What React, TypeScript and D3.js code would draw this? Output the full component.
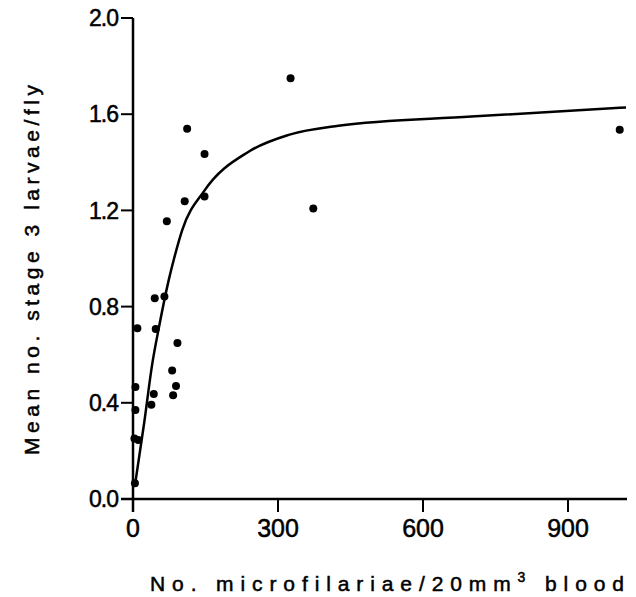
import React from "react";
import * as d3 from "d3";

const pointX = [326, 112, 148, 107, 148, 70, 373, 1007, 45, 65, 9, 47, 92, 81, 89, 83, 43, 38, 5, 5, 3, 11, 4];
const pointY = [1.75, 1.54, 1.435, 1.238, 1.258, 1.155, 1.208, 1.535, 0.835, 0.842, 0.71, 0.707, 0.649, 0.534, 0.47, 0.431, 0.437, 0.392, 0.466, 0.37, 0.252, 0.245, 0.065];

const curveX = [5, 23, 40, 54, 74, 85, 102, 147, 240, 322, 425, 700, 1020];
const curveY = [0.07, 0.315, 0.564, 0.717, 0.911, 1.0, 1.119, 1.28, 1.445, 1.514, 1.552, 1.59, 1.628];

const xTicks = [0, 300, 600, 900];
const yTicks = [0.0, 0.4, 0.8, 1.2, 1.6, 2.0];

const xTitle = "No. microfilariae/20mm";
const xTitleSup = "3";
const xTitleEnd = " blood";
const yTitle = "Mean no. stage 3 larvae/fly";

export default function App() {
  const W = 636;
  const H = 597;
  const x = d3.scaleLinear().domain([0, 1020]).range([133, 626]);
  const y = d3.scaleLinear().domain([0, 2]).range([499, 18]);
  const x0 = x(0);
  const y0 = y(0);

  const line = d3
    .line<number>()
    .x((_, i) => x(curveX[i]))
    .y((_, i) => y(curveY[i]))
    .curve(d3.curveMonotoneX);

  const font = "'Liberation Sans', Arial, Helvetica, sans-serif";
  const textStroke = { stroke: "#000", strokeWidth: 0.5 };

  return (
    <svg
      width={W}
      height={H}
      style={{ position: "absolute", left: 0, top: 0, background: "#fff" }}
      fontFamily={font}
    >
      {/* axes */}
      <line x1={x0} x2={x0} y1={y(2)} y2={y0 + 13} stroke="#000" strokeWidth={2.5} />
      <line x1={x0 - 12} x2={627} y1={y0} y2={y0} stroke="#000" strokeWidth={2.5} />
      {yTicks.map((t) => (
        <g key={"y" + t}>
          <line x1={x0 - 12} x2={x0} y1={y(t)} y2={y(t)} stroke="#000" strokeWidth={2} />
          <text
            x={x0 - 15}
            y={y(t)}
            dy="0.36em"
            textAnchor="end"
            fontSize={23}
            letterSpacing={-1}
            fill="#000"
            {...textStroke}
          >
            {t.toFixed(1)}
          </text>
        </g>
      ))}
      {xTicks.map((t) => (
        <g key={"x" + t}>
          <line x1={x(t)} x2={x(t)} y1={y0} y2={y0 + 13} stroke="#000" strokeWidth={2} />
          <text x={x(t)} y={537} textAnchor="middle" fontSize={25} fill="#000" {...textStroke}>
            {t}
          </text>
        </g>
      ))}

      {/* curve */}
      <path d={line(curveX) || ""} fill="none" stroke="#000" strokeWidth={2.5} />

      {/* points */}
      {pointX.map((v, i) => (
        <circle key={i} cx={x(v)} cy={y(pointY[i])} r={4} fill="#000" />
      ))}

      {/* titles */}
      <text
        x={150}
        y={591}
        fontSize={21}
        fill="#000"
        textLength={474}
        lengthAdjust="spacing"
        {...textStroke}
      >
        {xTitle}
        <tspan dy={-9} fontSize={14}>{xTitleSup}</tspan>
        <tspan dy={9}>{xTitleEnd}</tspan>
      </text>
      <text
        transform={`translate(39,455) rotate(-90)`}
        x={0}
        y={0}
        fontSize={21}
        fill="#000"
        textLength={370}
        lengthAdjust="spacing"
        {...textStroke}
      >
        {yTitle}
      </text>
    </svg>
  );
}
